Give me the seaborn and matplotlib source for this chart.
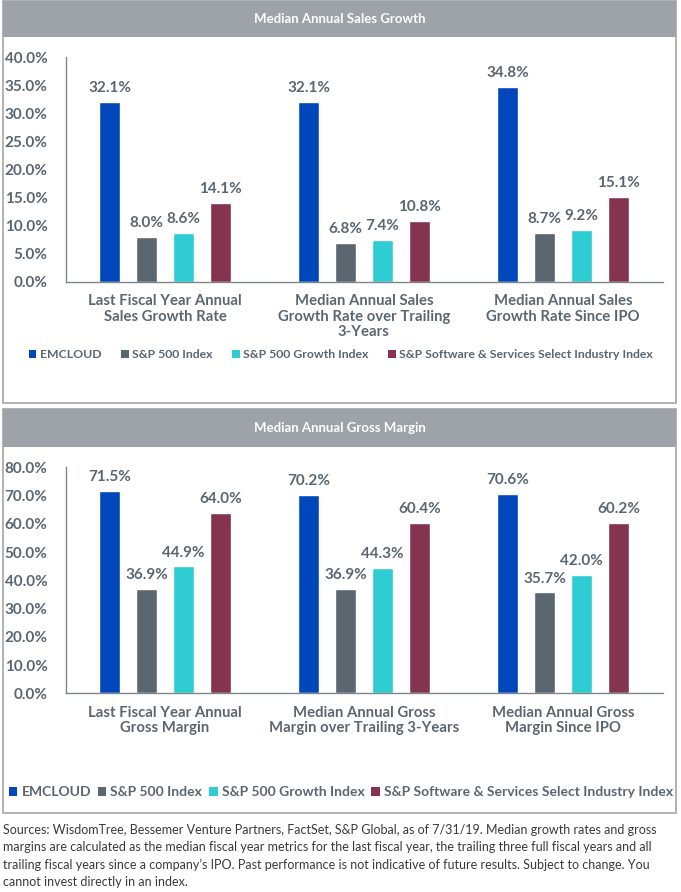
import matplotlib
matplotlib.use("Agg")
import matplotlib.pyplot as plt
import seaborn as sns
import pandas as pd
from matplotlib.patches import Rectangle, Patch

# ---------------- data ----------------
series = ["EMCLOUD", "S&P 500 Index", "S&P 500 Growth Index",
          "S&P Software & Services Select Industry Index"]
colors = ["#0047BB", "#5B6770", "#2ECCD3", "#84344E"]

sales_title = "Median Annual Sales Growth"
sales_categories = ["Last Fiscal Year Annual\nSales Growth Rate",
                    "Median Annual Sales\nGrowth Rate over Trailing\n3-Years",
                    "Median Annual Sales\nGrowth Rate Since IPO"]
sales_emcloud = [32.1, 32.1, 34.8]
sales_sp500 = [8.0, 6.8, 8.7]
sales_sp500_growth = [8.6, 7.4, 9.2]
sales_software = [14.1, 10.8, 15.1]
sales_ticks = [0, 5, 10, 15, 20, 25, 30, 35, 40]

margin_title = "Median Annual Gross Margin"
margin_categories = ["Last Fiscal Year Annual\nGross Margin",
                     "Median Annual Gross\nMargin over Trailing 3-Years",
                     "Median Annual Gross\nMargin Since IPO"]
margin_emcloud = [71.5, 70.2, 70.6]
margin_sp500 = [36.9, 36.9, 35.7]
margin_sp500_growth = [44.9, 44.3, 42.0]
margin_software = [64.0, 60.4, 60.2]
margin_ticks = [0, 10, 20, 30, 40, 50, 60, 70, 80]

footnote = ("Sources: WisdomTree, Bessemer Venture Partners, FactSet, S&P Global, as of 7/31/19. Median growth rates and gross\n"
            "margins are calculated as the median fiscal year metrics for the last fiscal year, the trailing three full fiscal years and all\n"
            "trailing fiscal years since a company\u2019s IPO. Past performance is not indicative of future results. Subject to change. You\n"
            "cannot invest directly in an index.")

# ---------------- style ----------------
sns.set_theme(style="white")
plt.rcParams["font.family"] = ["Lato", "DejaVu Sans"]
TXT = "#5A6670"
HEADER = "#9DA3A8"
BORDER = "#A6A6A6"
SPINE = "#7F868C"

W, H = 681, 892
fig = plt.figure(figsize=(W / 100, H / 100), dpi=100)
fig.patch.set_facecolor("white")


def fx(x):
    return x / W


def fy(y):
    return 1 - y / H


def long_df(cats, vals):
    rows = []
    for s, v in zip(series, vals):
        for c, val in zip(cats, v):
            rows.append({"category": c, "series": s, "value": val})
    return pd.DataFrame(rows)


def panel(top, bottom, header_bottom, title, ax_top, ax_bottom, cats, vals,
          ticks, legend_y, legend_size, col_space):
    # panel frame and header
    fig.patches.append(Rectangle((fx(2.5), fy(bottom)), (676 - 2.5) / W, (bottom - top) / H,
                                 transform=fig.transFigure, facecolor="none",
                                 edgecolor=BORDER, lw=1.2, zorder=0))
    fig.patches.append(Rectangle((fx(2.5), fy(header_bottom)), (676 - 2.5) / W,
                                 (header_bottom - top) / H, transform=fig.transFigure,
                                 facecolor=HEADER, edgecolor="none", zorder=0))
    fig.text(fx(340), fy((top + header_bottom) / 2), title, ha="center", va="center",
             color="white", fontsize=9.5, fontweight="bold")

    ax = fig.add_axes([fx(65.5), fy(ax_bottom), (662.5 - 65.5) / W, (ax_bottom - ax_top) / H])
    ax.set_zorder(3)
    ax.set_facecolor("none")
    df = long_df(cats, vals)
    sns.barplot(data=df, x="category", y="value", hue="series", hue_order=series,
                palette=colors, saturation=1, width=0.744, gap=0.43, ax=ax,
                legend=False, errorbar=None)
    for cont in ax.containers:
        ax.bar_label(cont, labels=[f"{v:.1f}%" for v in cont.datavalues], padding=5,
                     fontsize=11, fontweight="bold", color=TXT)
    ax.set_xlim(-0.5, 2.5)
    ax.set_ylim(ticks[0], ticks[-1])
    ax.set_yticks(ticks)
    ax.set_yticklabels([f"{t:.1f}%" for t in ticks])
    ax.set_xlabel("")
    ax.set_ylabel("")
    for side in ["top", "right"]:
        ax.spines[side].set_visible(False)
    for side in ["left", "bottom"]:
        ax.spines[side].set_color(SPINE)
        ax.spines[side].set_linewidth(1.0)
    ax.tick_params(axis="y", length=0, pad=13, labelsize=11, labelcolor=TXT)
    ax.tick_params(axis="x", length=0, pad=9, labelsize=10.7, labelcolor=TXT)
    for lbl in ax.get_yticklabels():
        lbl.set_fontweight("bold")
    for lbl in ax.get_xticklabels():
        lbl.set_fontweight("bold")
        lbl.set_linespacing(1.15)

    handles = [Patch(facecolor=c, edgecolor="none") for c in colors]
    fig.legend(handles, series, loc="center", bbox_to_anchor=(fx(341), fy(legend_y)),
               ncol=4, frameon=False, handlelength=0.6, handleheight=0.6,
               handletextpad=0.3, columnspacing=col_space,
               prop={"weight": "bold", "size": legend_size}, labelcolor=TXT)
    return ax


panel(1, 403, 37, sales_title, 57.5, 281.5, sales_categories,
      [sales_emcloud, sales_sp500, sales_sp500_growth, sales_software],
      sales_ticks, 355, 8.8, 1.6)
panel(409, 813, 447, margin_title, 467.3, 693.3, margin_categories,
      [margin_emcloud, margin_sp500, margin_sp500_growth, margin_software],
      margin_ticks, 792, 10.0, 0.5)

fig.text(fx(3), fy(824), footnote, ha="left", va="top", fontsize=9.0,
         color="#3A3A3A", linespacing=1.5)

fig.savefig("out.png", dpi=100, facecolor="white")
